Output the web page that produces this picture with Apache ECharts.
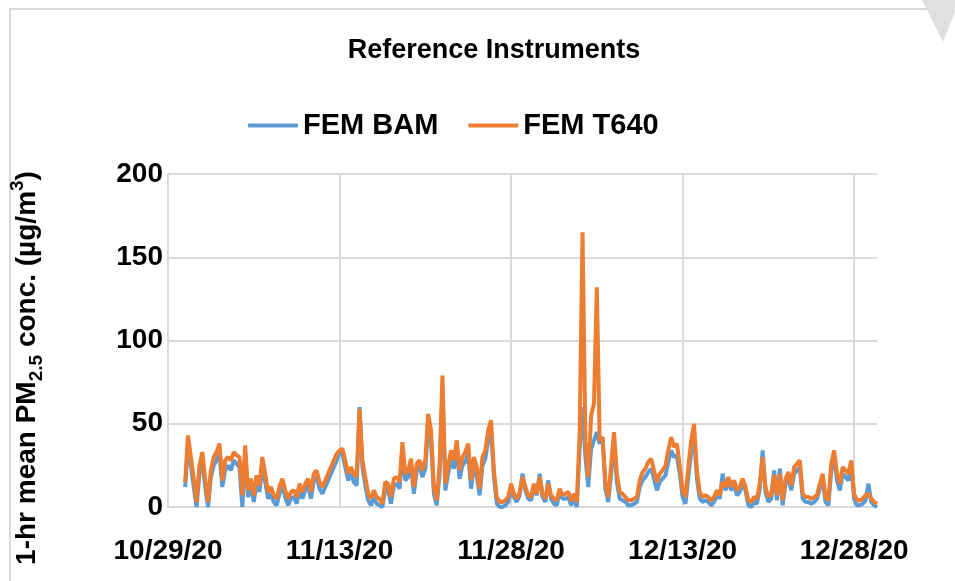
<!DOCTYPE html>
<html style="height: 100%">
<head>
    <meta charset="utf-8">
    <script src="https://cdn.jsdelivr.net/npm/echarts@6/dist/echarts.min.js"></script>
</head>
<body style="height: 100%; margin: 0; background: #fff">
    <div id="main" style="width: 955px; height: 581px"></div>
    <script type="text/javascript">
        var myChart = echarts.init(document.getElementById('main'));

        // x: days since 10/29/20, one value every 6 h
        var startDay = 1.5;
        var stepDay = 0.25;
        var xTickLabels = ['10/29/20', '11/13/20', '11/28/20', '12/13/20', '12/28/20'];
        var seriesNames = ['FEM BAM', 'FEM T640'];

        var femT640 = [15, 43,
            30, 17, 3, 25, 33, 17, 3, 22,      // d2-3
            30, 33, 38, 16, 28, 30, 28, 33,    // d4-5
            31, 30, 7, 37, 10, 17, 7, 19,      // d6-7
            13, 30, 20, 9, 12, 7, 5, 12,       // d8-9
            17, 10, 5, 9, 10, 6, 14, 9,        // d10-11
            14, 17, 9, 20, 22, 15, 12, 16,     // d12-13
            20, 24, 28, 32, 34, 35, 28, 20,    // d14-15
            24, 20, 18, 59, 28, 18, 8, 5,      // d16-17
            10, 6, 5, 2, 15, 14, 6, 17,        // d18-19
            18, 15, 39, 20, 22, 29, 12, 26,    // d20-21
            28, 22, 28, 56, 46, 12, 4, 25,     // d22-23
            79, 14, 25, 34, 28, 40, 22, 30,    // d24-25
            33, 38, 16, 30, 24, 11, 30, 34,    // d26-27
            46, 52, 22, 6, 3, 3, 4, 6,         // d28-29
            14, 8, 5, 9, 18, 12, 7, 6,         // d30-31
            14, 8, 18, 8, 5, 14, 7, 5,         // d32-33
            4, 11, 7, 8, 9, 4, 8, 3,           // d34-35
            45, 165, 40, 18, 55, 62, 132, 40,  // d36-37
            42, 15, 6, 25, 45, 20, 9, 8,       // d38-39
            6, 4, 4, 5, 6, 16, 21, 23,         // d40-41
            27, 29, 22, 15, 20, 22, 25, 34,    // d42-43
            42, 36, 38, 25, 10, 6, 24, 40,     // d44-45
            50, 22, 9, 6, 7, 6, 4, 6,          // d46-47
            10, 7, 15, 12, 18, 12, 16, 10,     // d48-49
            12, 17, 12, 4, 3, 6, 5, 14,        // d50-51
            30, 12, 6, 8, 19, 7, 20, 4,        // d52-53
            17, 21, 13, 24, 26, 28, 8, 6,      // d54-55
            6, 5, 6, 7, 14, 20, 6, 4,          // d56-57
            26, 34, 20, 14, 24, 22, 20, 28,    // d58-59
            8, 4, 4, 5, 7, 8, 5, 3,            // d60-61
            2];

        var femBAM = [12, 38,
            25, 12, 0, 20, 28, 12, 0, 18,      // d2-3
            25, 28, 32, 12, 22, 25, 22, 28,    // d4-5
            26, 24, 0, 32, 6, 13, 3, 15,       // d6-7
            9, 25, 15, 5, 8, 3, 1, 8,          // d8-9
            13, 6, 1, 5, 6, 2, 10, 5,          // d10-11
            10, 13, 5, 16, 18, 11, 8, 12,      // d12-13
            16, 20, 24, 28, 33, 32, 24, 16,    // d14-15
            20, 15, 13, 60, 24, 13, 4, 1,      // d16-17
            6, 2, 1, 0, 11, 10, 2, 13,         // d18-19
            14, 11, 33, 16, 18, 24, 8, 22,     // d20-21
            24, 18, 23, 48, 40, 8, 1, 20,      // d22-23
            70, 10, 20, 29, 23, 34, 17, 25,    // d24-25
            27, 32, 11, 25, 19, 7, 25, 29,     // d26-27
            40, 46, 18, 2, 0, 0, 1, 3,         // d28-29
            10, 6, 3, 7, 20, 10, 5, 4,         // d30-31
            12, 7, 20, 6, 3, 16, 5, 2,         // d32-33
            1, 9, 5, 5, 6, 1, 5, 0,            // d34-35
            35, 60, 30, 12, 35, 40, 45, 38,    // d36-37
            42, 11, 3, 20, 40, 15, 5, 4,       // d38-39
            3, 1, 1, 2, 3, 12, 16, 18,         // d40-41
            21, 23, 17, 10, 15, 17, 19, 27,    // d42-43
            34, 30, 31, 20, 6, 2, 18, 33,      // d44-45
            42, 17, 5, 3, 4, 3, 1, 3,          // d46-47
            8, 5, 20, 10, 16, 10, 14, 7,       // d48-49
            9, 14, 10, 1, 0, 3, 2, 11,         // d50-51
            34, 9, 3, 5, 22, 4, 23, 1,         // d52-53
            14, 18, 10, 20, 22, 24, 5, 3,      // d54-55
            3, 2, 3, 5, 11, 16, 3, 1,          // d56-57
            22, 30, 16, 10, 20, 18, 16, 24,    // d58-59
            5, 1, 1, 2, 4, 14, 3, 1,           // d60-61
            0];

        function toPoints(vals) {
            return vals.map(function (v, i) {
                return [startDay + i * stepDay, v];
            });
        }

        var font = "'Liberation Sans Narrow', 'Liberation Sans', sans-serif";
        var gridColor = '#d9d9d9';

        var option = {
            animation: false,
            backgroundColor: '#fff',
            title: {
                text: 'Reference Instruments',
                left: 489,
                textAlign: 'center',
                top: 32,
                textStyle: { fontFamily: font, fontSize: 27, fontWeight: 'bold', color: '#000' }
            },
            legend: {
                data: seriesNames,
                left: 243,
                top: 106,
                itemWidth: 50,
                itemHeight: 4,
                itemGap: 30,
                icon: 'roundRect',
                textStyle: { fontFamily: font, fontSize: 29, fontWeight: 'bold', color: '#000' }
            },
            grid: { left: 168, right: 78, top: 174, bottom: 74 },
            xAxis: {
                type: 'value',
                min: 0,
                max: 62,
                interval: 15,
                axisLine: { show: true, lineStyle: { color: gridColor, width: 2 } },
                axisTick: { show: false },
                splitLine: {
                    show: true,
                    // no line at the right edge (max)
                    lineStyle: { color: [gridColor, gridColor, gridColor, gridColor, gridColor, 'rgba(0,0,0,0)'], width: 2 }
                },
                axisLabel: {
                    showMaxLabel: false,
                    margin: 30,
                    fontFamily: font, fontSize: 28, fontWeight: 'bold', color: '#000',
                    formatter: function (v) { return xTickLabels[Math.round(v / 15)] || ''; }
                }
            },
            yAxis: {
                type: 'value',
                min: 0,
                max: 200,
                interval: 50,
                axisLine: { show: true, lineStyle: { color: gridColor, width: 2 } },
                axisTick: { show: false },
                splitLine: { lineStyle: { color: gridColor, width: 2 } },
                axisLabel: { margin: 5, fontFamily: font, fontSize: 28, fontWeight: 'bold', color: '#000' }
            },
            graphic: [
                {
                    type: 'polyline',
                    shape: { points: [[10, 581], [10, 9], [955, 9]] },
                    style: { stroke: gridColor, lineWidth: 2, fill: null }
                },
                {
                    type: 'polygon',
                    shape: { points: [[922, 0], [955, 0], [955, 12], [943, 42]] },
                    style: { fill: '#e0e0e0' }
                },
                {
                    type: 'text',
                    x: 27,
                    y: 368,
                    rotation: Math.PI / 2,
                    style: {
                        text: '{a|1-hr mean PM}{s|2.5}{a| conc. (µg/m}{p|3}{a|)}',
                        align: 'center',
                        verticalAlign: 'middle',
                        rich: {
                            a: { fontFamily: font, fontSize: 28, fontWeight: 'bold', fill: '#000', lineHeight: 38, verticalAlign: 'middle' },
                            s: { fontFamily: font, fontSize: 19, fontWeight: 'bold', fill: '#000', lineHeight: 38, verticalAlign: 'bottom' },
                            p: { fontFamily: font, fontSize: 19, fontWeight: 'bold', fill: '#000', lineHeight: 38, verticalAlign: 'top' }
                        }
                    }
                }
            ],
            series: [
                {
                    name: seriesNames[0],
                    type: 'line',
                    data: toPoints(femBAM),
                    showSymbol: false,
                    symbol: 'none',
                    lineStyle: { color: '#5B9BD5', width: 4 },
                    itemStyle: { color: '#5B9BD5' },
                    z: 2
                },
                {
                    name: seriesNames[1],
                    type: 'line',
                    data: toPoints(femT640),
                    showSymbol: false,
                    symbol: 'none',
                    lineStyle: { color: '#ED7D31', width: 4 },
                    itemStyle: { color: '#ED7D31' },
                    z: 3
                }
            ]
        };

        myChart.setOption(option);
    </script>
</body>
</html>
